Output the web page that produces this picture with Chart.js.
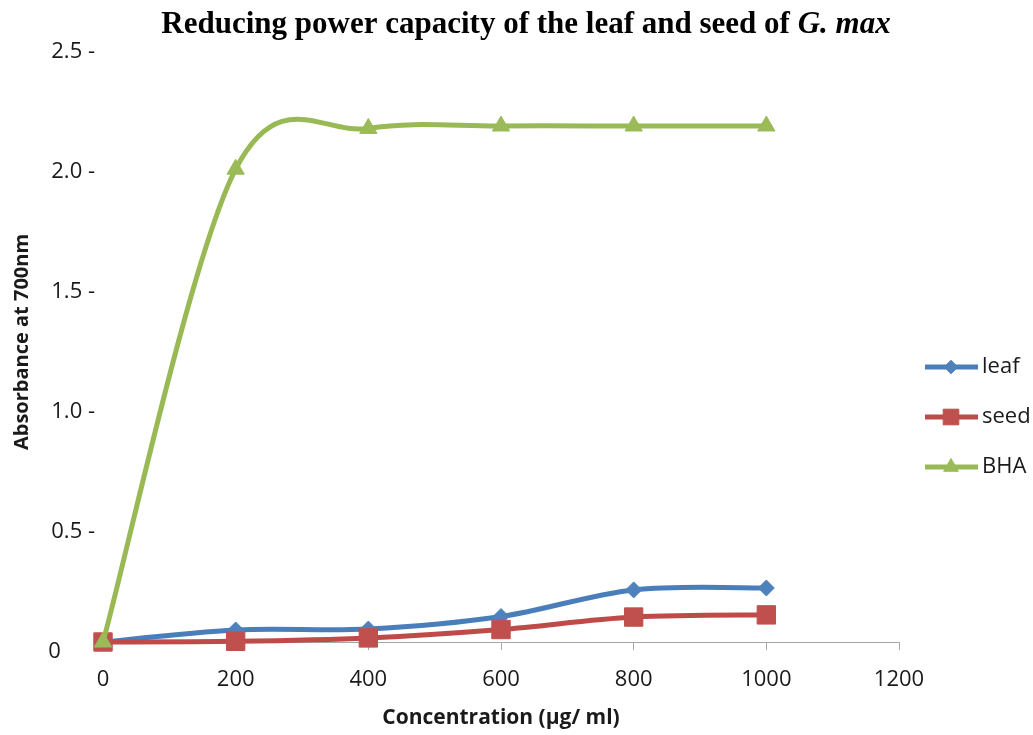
<!DOCTYPE html>
<html>
<head>
<meta charset="utf-8">
<title>Reducing power capacity</title>
<script src="https://cdn.jsdelivr.net/npm/chart.js@4"></script>
<style>
  html, body { margin: 0; padding: 0; background: #fff; }
  #wrap { width: 1033px; height: 735px; }
</style>
</head>
<body>
<div id="wrap"><canvas id="chart"></canvas></div>
<script>
// ---- data ----
const concentrations = [0, 200, 400, 600, 800, 1000];   // µg/ml
const leafValues = [0.0, 0.05, 0.054, 0.106, 0.217, 0.225];
const seedValues = [0.0, 0.003, 0.017, 0.052, 0.104, 0.113];
const bhaValues = [0.0, 1.97, 2.14, 2.15, 2.15, 2.15];
const seriesNames = ['leaf', 'seed', 'BHA'];
const yTickLabels = ['0', '0.5 -', '1.0 -', '1.5 -', '2.0 -', '2.5 -'];

const titleMain = 'Reducing power capacity of the leaf and seed of ';
const titleItalic = 'G. max';

// Excel 2007 palette
const lineColors = ['#4A7EBB', '#BE4B48', '#98B954'];
const markerColors = ['#4F81BD', '#C0504D', '#9BBB59'];
const markerStyles = ['rectRot', 'rect', 'triangle'];
const markerRadius = [8, 13, 10];

const toPoints = vals => vals.map((v, i) => ({ x: concentrations[i], y: v }));
const allValues = [leafValues, seedValues, bhaValues];

const datasets = seriesNames.map((name, i) => ({
    label: name,
    data: toPoints(allValues[i]),
    borderColor: lineColors[i],
    backgroundColor: markerColors[i],
    pointBackgroundColor: markerColors[i],
    pointBorderColor: markerColors[i],
    pointBorderWidth: 1,
    pointStyle: markerStyles[i],
    pointRadius: markerRadius[i],
    borderWidth: 5,
    tension: 0.4,
    clip: false,
    order: 2 - i   // BHA on top, leaf at the back
}));

// Excel-style smoothing: control points at +/- (next - prev) / 6
const excelSmooth = {
    id: 'excelSmooth',
    beforeDatasetDraw(chart, args) {
        const line = args.meta.dataset;
        const pts = args.meta.data;
        line.updateControlPoints(chart.chartArea, 'x');
        pts.forEach((p, i) => {
            const prev = pts[Math.max(i - 1, 0)];
            const next = pts[Math.min(i + 1, pts.length - 1)];
            const dx = (next.x - prev.x) / 6;
            const dy = (next.y - prev.y) / 6;
            p.cp1x = p.x - dx; p.cp1y = p.y - dy;
            p.cp2x = p.x + dx; p.cp2y = p.y + dy;
        });
        delete line._path;
    }
};

// title with italic species name
const titlePlugin = {
    id: 'mixedTitle',
    afterDraw(chart) {
        const ctx = chart.ctx;
        const fontA = 'bold 31px "Liberation Serif", "Times New Roman", serif';
        const fontB = 'italic bold 31px "Liberation Serif", "Times New Roman", serif';
        ctx.save();
        ctx.font = fontA;
        const wA = ctx.measureText(titleMain).width;
        ctx.font = fontB;
        const wB = ctx.measureText(titleItalic).width;
        let x = 526 - (wA + wB) / 2;
        const y = 33;
        ctx.fillStyle = '#000';
        ctx.textBaseline = 'alphabetic';
        ctx.textAlign = 'left';
        ctx.font = fontA;
        ctx.fillText(titleMain, x, y);
        ctx.font = fontB;
        ctx.fillText(titleItalic, x + wA, y);
        ctx.restore();
    }
};

// legend on the right: line segment with marker, then name
const legendPlugin = {
    id: 'lineLegend',
    afterDraw(chart) {
        const ctx = chart.ctx;
        const rows = [367, 417, 467];
        ctx.save();
        seriesNames.forEach((name, i) => {
            const y = rows[i];
            ctx.strokeStyle = lineColors[i];
            ctx.lineWidth = 5;
            ctx.beginPath();
            ctx.moveTo(925, y);
            ctx.lineTo(978, y);
            ctx.stroke();
            ctx.fillStyle = markerColors[i];
            ctx.strokeStyle = markerColors[i];
            ctx.lineWidth = 1;
            Chart.helpers.drawPoint(ctx, {
                pointStyle: markerStyles[i],
                radius: markerRadius[i] * 0.85,
                rotation: 0,
                borderWidth: 1
            }, 951, y);
            ctx.fillStyle = '#1a1a1a';
            ctx.font = '22px "Open Sans", sans-serif';
            ctx.textBaseline = 'middle';
            ctx.textAlign = 'left';
            ctx.fillText(name, 982, y);
        });
        ctx.restore();
    }
};

const ctx = document.getElementById('chart').getContext('2d');
new Chart(ctx, {
    type: 'line',
    data: { datasets: datasets },
    options: {
        responsive: true,
        maintainAspectRatio: false,
        animation: false,
        layout: { padding: { top: 42, right: 134, left: 0, bottom: 0 } },
        plugins: {
            legend: { display: false },
            title: { display: false },
            tooltip: { enabled: false }
        },
        scales: {
            x: {
                type: 'linear',
                min: 0,
                max: 1200,
                ticks: {
                    stepSize: 200,
                    color: '#1a1a1a',
                    font: { family: '"Open Sans", sans-serif', size: 22 },
                    padding: 17,
                    callback: value => String(value)
                },
                grid: {
                    drawOnChartArea: false,
                    drawTicks: true,
                    tickLength: 8,
                    color: '#A6A6A6'
                },
                border: { display: true, color: '#A6A6A6', width: 1 },
                title: {
                    display: true,
                    text: 'Concentration (µg/ ml)',
                    color: '#1a1a1a',
                    font: { family: '"Open Sans", sans-serif', size: 21, weight: 'bold' },
                    padding: { top: 0, bottom: 4 }
                },
                afterFit(scale) { scale.height = 93; }
            },
            y: {
                min: 0,
                max: 2.5,
                ticks: {
                    stepSize: 0.5,
                    color: '#1a1a1a',
                    font: { family: '"Open Sans", sans-serif', size: 22 },
                    padding: 8,
                    labelOffset: 10,
                    // the lone "0" sits left, under the other labels' digits
                    callback: (value, index) => index === 0
                        ? yTickLabels[index] + '      '
                        : yTickLabels[index]
                },
                grid: { display: false, drawTicks: false },
                border: { display: false },
                title: {
                    display: true,
                    text: 'Absorbance at 700nm',
                    color: '#1a1a1a',
                    font: { family: '"Open Sans", sans-serif', size: 20, weight: 'bold' },
                    padding: { top: 10, bottom: 0 }
                },
                afterFit(scale) { scale.width = 103; }
            }
        }
    },
    plugins: [excelSmooth, titlePlugin, legendPlugin]
});
</script>
</body>
</html>
